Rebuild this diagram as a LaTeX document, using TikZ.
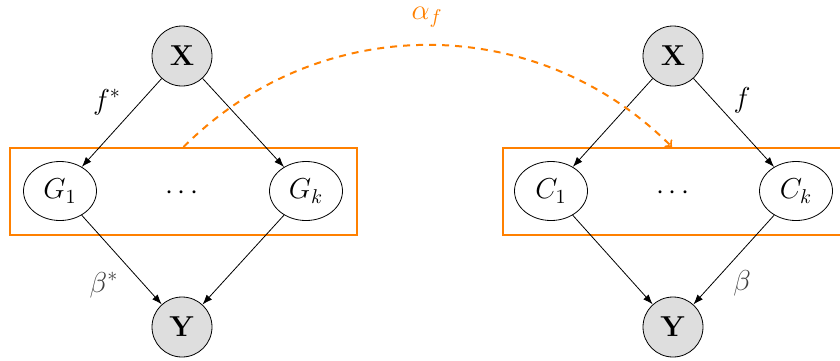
\documentclass[tikz,border=0pt]{standalone}
\usetikzlibrary{shapes.geometric,arrows.meta}
\definecolor{myorange}{RGB}{255,128,0}
\begin{document}
\begin{tikzpicture}[x=0.5pt,y=-0.5pt,font=\Large,
  obs/.style={circle,draw,fill=black!13,minimum size=30pt,inner sep=0pt},
  lat/.style={ellipse,draw,minimum width=36.5pt,minimum height=29.5pt,inner sep=0pt},
  grp/.style={rectangle,draw=myorange,line width=1pt,minimum height=43.5pt,inner sep=0pt},
  edge/.style={-{Latex[length=5pt,width=3.6pt]},thin},
  lbl/.style={inner sep=0pt}]
\useasboundingbox (0,0) rectangle (840,360);
% left
\node[grp,minimum width=173.5pt] (lbox) at (183.5,191.5) {};
\node[obs] (lx) at (182,56) {$\mathbf{X}$};
\node[obs] (ly) at (182,327) {$\mathbf{Y}$};
\node[lat] (g1) at (60,191) {$G_1$};
\node[lat] (gk) at (306,191) {$G_k$};
\node (ld) at (182,193) {$\cdots$};
\draw[edge] (lx) -- (g1);
\draw[edge] (lx) -- (gk);
\draw[edge] (g1) -- (ly);
\draw[edge] (gk) -- (ly);
\node[lbl] (lf) at (107,102) {$f^{*}$};
\node[lbl,text=black!75] (lb) at (104,285) {$\beta^{*}$};
% right
\node[grp,minimum width=171pt] (rbox) at (674,191.5) {};
\node[obs] (rx) at (673,56) {$\mathbf{X}$};
\node[obs] (ry) at (673,327) {$\mathbf{Y}$};
\node[lat] (c1) at (551,191) {$C_1$};
\node[lat] (ck) at (796,191) {$C_k$};
\node (rd) at (673,193) {$\cdots$};
\draw[edge] (rx) -- (c1);
\draw[edge] (rx) -- (ck);
\draw[edge] (c1) -- (ry);
\draw[edge] (ck) -- (ry);
\node[lbl] (rf) at (742,100) {$f$};
\node[lbl,text=black!75] (rb) at (742,283) {$\beta$};
% dashed arc
\coordinate (dend) at ([xshift=-1pt]rbox.north);
\draw[-to,myorange,line width=1pt,dash pattern=on 3.5pt off 3pt]
  (lbox.north) .. controls +(136,-136) and +(-136,-136) .. (dend);
\node[lbl,text=myorange] (alpha) at (427,17) {$\alpha_f$};
\end{tikzpicture}
\end{document}
